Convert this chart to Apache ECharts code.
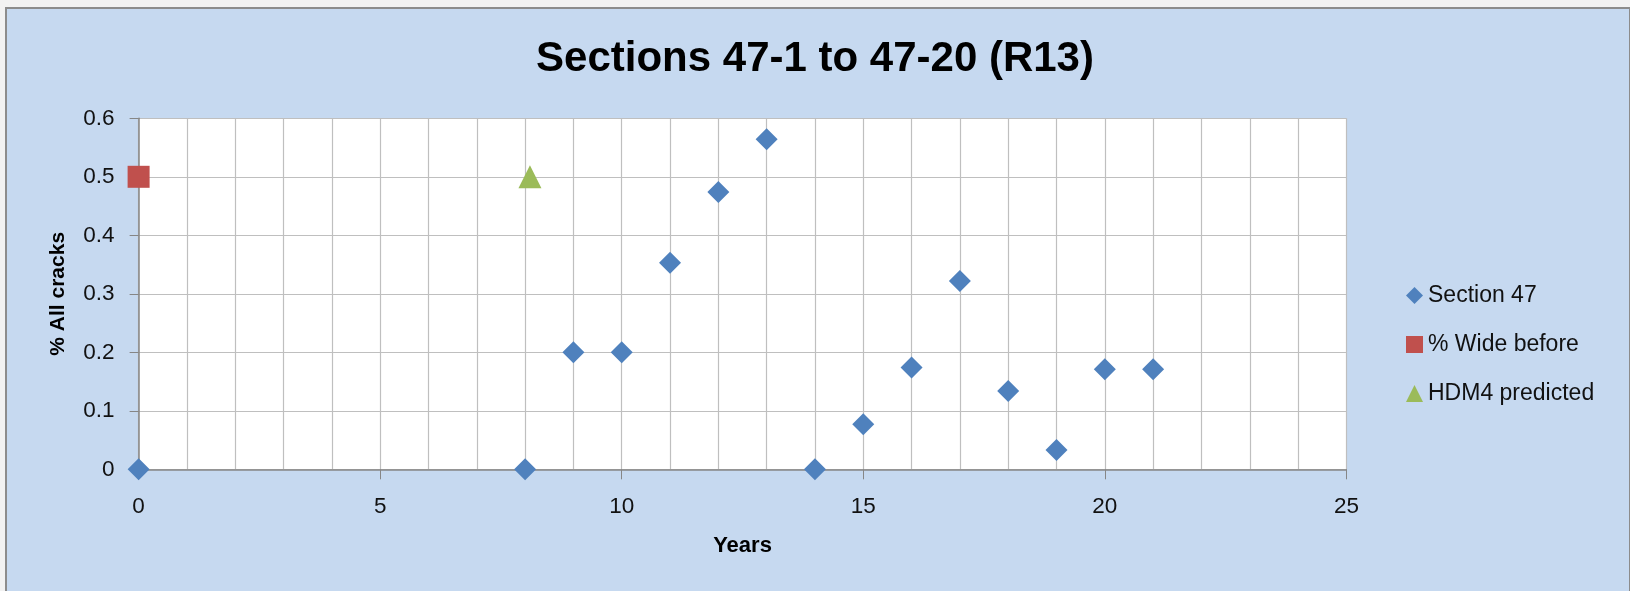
<!DOCTYPE html>
<html>
<head>
<meta charset="utf-8">
<script src="https://cdn.jsdelivr.net/npm/echarts@6/dist/echarts.min.js"></script>
<style>
  html, body { margin: 0; padding: 0; width: 1630px; height: 591px; background: #f2f2f2; overflow: hidden; }
  #frame { position: absolute; left: 5px; top: 7px; width: 1622px; height: 590px; background: #c6d9f0; border: 2px solid #8c8c8c; }
  #chart { position: absolute; left: 0; top: 0; width: 1630px; height: 591px; }
</style>
</head>
<body>
<div id="frame"></div>
<div id="chart"></div>
<script>
// Crack survey, sections 47-1 to 47-20
const years47 = [0, 8, 9, 10, 11, 12, 13, 14, 15, 16, 17, 18, 19, 20, 21];
const cracks47 = [0, 0, 0.2, 0.2, 0.353, 0.474, 0.564, 0, 0.077, 0.174, 0.322, 0.134, 0.033, 0.171, 0.171];
const wideYears = [0];
const wideValues = [0.5];
const hdm4Years = [8.1];
const hdm4Values = [0.5];
const xTicks = [0, 5, 10, 15, 20, 25];
const yTicks = [0, 0.1, 0.2, 0.3, 0.4, 0.5, 0.6];

const pairs = (xs, ys) => xs.map((x, i) => [x, ys[i]]);
const FONT = 'Liberation Sans';

const chart = echarts.init(document.getElementById('chart'), null, { renderer: 'canvas' });
chart.setOption({
  backgroundColor: 'transparent',
  animation: false,
  title: {
    text: 'Sections 47-1 to 47-20 (R13)',
    left: 'center',
    top: 33,
    textStyle: { fontFamily: FONT, fontWeight: 'bold', fontSize: 42, color: '#000' }
  },
  legend: {
    orient: 'vertical',
    left: 1401,
    top: 279,
    itemWidth: 17,
    itemHeight: 17,
    itemGap: 26,
    textStyle: { fontFamily: FONT, fontSize: 23, color: '#111' },
    data: ['Section 47', '% Wide before', 'HDM4 predicted']
  },
  grid: {
    left: 138.6,
    right: 283.6,
    top: 118.3,
    bottom: 121.7,
    show: true,
    backgroundColor: '#ffffff',
    borderWidth: 0
  },
  xAxis: {
    type: 'value',
    min: xTicks[0],
    max: xTicks[xTicks.length - 1],
    interval: xTicks[1] - xTicks[0],
    name: 'Years',
    nameLocation: 'middle',
    nameGap: 66,
    nameTextStyle: { fontFamily: FONT, fontWeight: 'bold', fontSize: 22, color: '#000' },
    axisLine: { show: true, lineStyle: { color: '#868686', width: 1.5 } },
    axisTick: { show: true, length: 10, lineStyle: { color: '#868686', width: 1 } },
    axisLabel: { fontFamily: FONT, fontSize: 22.5, color: '#111', margin: 26 },
    splitLine: { show: true, lineStyle: { color: '#bfbfbf', width: 1.2 } },
    minorTick: { show: false, splitNumber: 5 },
    minorSplitLine: { show: true, lineStyle: { color: '#bfbfbf', width: 1.2 } }
  },
  yAxis: {
    type: 'value',
    min: yTicks[0],
    max: yTicks[yTicks.length - 1],
    interval: 0.1,
    name: '% All cracks',
    nameLocation: 'middle',
    nameGap: 70,
    nameTextStyle: { fontFamily: FONT, fontWeight: 'bold', fontSize: 21, color: '#000' },
    axisLine: { show: true, lineStyle: { color: '#868686', width: 1.5 } },
    axisTick: { show: true, length: 9, lineStyle: { color: '#868686', width: 1 } },
    axisLabel: { fontFamily: FONT, fontSize: 22.5, color: '#111', margin: 24 },
    splitLine: { show: true, lineStyle: { color: '#bfbfbf', width: 1.2 } }
  },
  series: [
    {
      name: 'Section 47',
      type: 'scatter',
      symbol: 'diamond',
      symbolSize: 22,
      clip: false,
      itemStyle: { color: '#4f81bd', opacity: 1 },
      data: pairs(years47, cracks47)
    },
    {
      name: '% Wide before',
      type: 'scatter',
      symbol: 'rect',
      symbolSize: 22,
      clip: false,
      itemStyle: { color: '#c0504d', opacity: 1 },
      data: pairs(wideYears, wideValues)
    },
    {
      name: 'HDM4 predicted',
      type: 'scatter',
      symbol: 'triangle',
      symbolSize: 23,
      clip: false,
      itemStyle: { color: '#9bbb59', opacity: 1 },
      data: pairs(hdm4Years, hdm4Values)
    }
  ]
});
</script>
</body>
</html>
